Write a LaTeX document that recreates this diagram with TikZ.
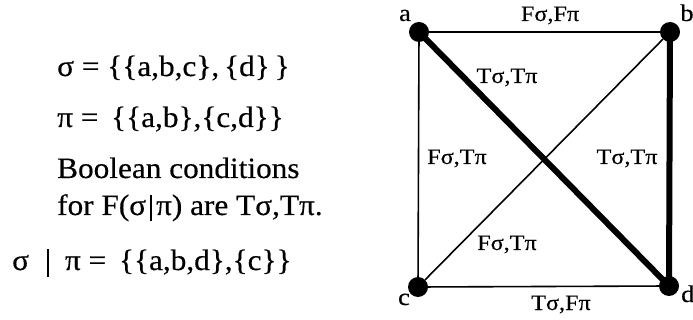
\documentclass[tikz,border=0pt]{standalone}
\usepackage{fontspec}
\setmainfont{Liberation Serif}[FakeStretch=1.06,FakeBold=0.4]
\newfontfamily\lblfont{Liberation Serif}[FakeStretch=1.1,FakeBold=0.4]
\begin{document}
\begin{tikzpicture}[x=1pt,y=-1pt,
  txt/.style={anchor=base west,inner sep=0pt,font=\fontsize{29.5}{34}\selectfont},
  lbl/.style={anchor=base,inner sep=0pt,font=\lblfont\fontsize{22}{26}\selectfont},
  vtx/.style={circle,fill=black,minimum size=20pt,inner sep=0pt},
  thin/.style={line width=1.6pt},
  heavy/.style={line width=6pt}]
\useasboundingbox (0,0) rectangle (693,320);
% left text
\node[txt] (l1) at (57,76) {σ = \{\{a,b,c\},\,\{d\}\,\}};
\node[txt] (l2) at (57,127) {π = \,\{\{a,b\},\{c,d\}\}};
\node[txt] (l3) at (57,178) {Boolean conditions};
\node[txt] (l4) at (57,215) {for F(σ\hspace{4pt}\rule[-6pt]{2pt}{26pt}\hspace{4pt}π) are Tσ,Tπ.};
\node[txt] (l5) at (12,270) {σ\hspace{18pt}\rule[-7pt]{2pt}{28pt}\hspace{16pt}π = \,\{\{a,b,d\},\{c\}\}};
% graph
\node[vtx] (a) at (419,32) {};
\node[vtx] (b) at (670,32) {};
\node[vtx] (c) at (418,287) {};
\node[vtx] (d) at (669,286) {};
\draw[thin] (a) -- (b);
\draw[thin] (a) -- (c);
\draw[thin] (c) -- (d);
\draw[thin] (b) -- (c);
\draw[heavy] (a.center) -- (d.center);
\draw[heavy] (b.center) -- (d.center);
\node[lbl,font=\lblfont\fontsize{24}{28}\selectfont] (na) at (405,21) {a};
\node[lbl,font=\lblfont\fontsize{24}{28}\selectfont] (nb) at (687,21) {b};
\node[lbl,font=\lblfont\fontsize{24}{28}\selectfont] (nc) at (404,305) {c};
\node[lbl,anchor=base west,font=\lblfont\fontsize{24}{28}\selectfont] (nd) at (681,302) {d};
\node[lbl] (eab) at (550,21) {Fσ,Fπ};
\node[lbl] (ead) at (507,83) {Tσ,Tπ};
\node[lbl] (eac) at (457,164) {Fσ,Tπ};
\node[lbl] (ebd) at (627,164) {Tσ,Tπ};
\node[lbl] (ebc) at (507,250) {Fσ,Tπ};
\node[lbl] (ecd) at (561,310) {Tσ,Fπ};
\end{tikzpicture}
\end{document}
